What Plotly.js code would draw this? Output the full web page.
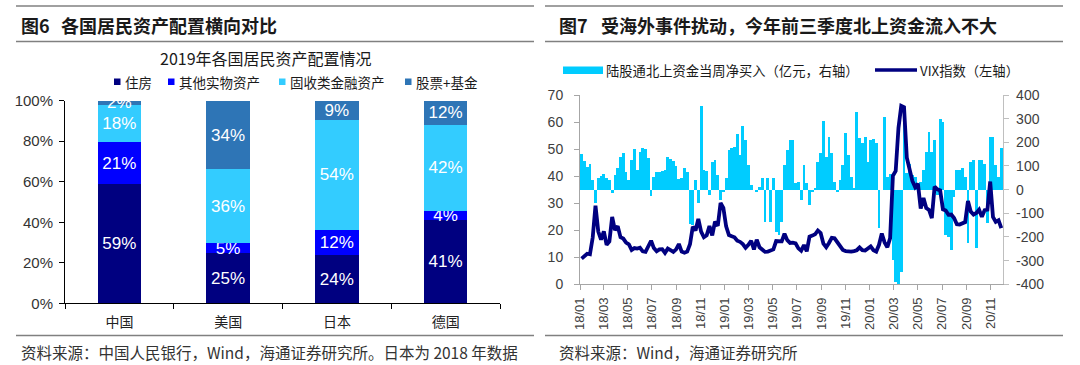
<!DOCTYPE html>
<html><head><meta charset="utf-8">
<script src="https://cdn.plot.ly/plotly-3.0.1.min.js"></script>
<style>html,body{margin:0;padding:0;background:#fff;} #chart{width:1080px;height:365px;}</style>
</head><body><div id="chart"></div>
<script>
// ---------- Left chart data (图6) ----------
const countries = ['中国', '美国', '日本', '德国'];
const seriesNames = ['住房', '其他实物资产', '固收类金融资产', '股票+基金'];
const housing = [58.9, 24.7, 23.9, 41.3];
const otherReal = [20.6, 5.0, 12.4, 4.4];
const fixedIncome = [18.4, 36.4, 54.3, 42.3];
const equityFund = [2.1, 33.9, 9.4, 12.0];
const pctTicks = [0, 20, 40, 60, 80, 100];

// ---------- Right chart data (图7) ----------
const firstWeek = '2018-01-05';
// 陆股通北上资金当周净买入（亿元）
const flows2018 = [150,120,95,108,40,-58,48,59,65,48, 41,-15,62,90,140,153,76,41,125,170,
  83,160,177,170,135,-25,55,75,73,80, 83,139,130,120,100,45,48,90,75,-145,
  -150,41,-55,355,83,79,-22,118,125,60, -44,-8];
const flows2019 = [48,168,175,182,234,146,270,210,104,20, -1,-8,13,48,-135,50,-135,48,-178,-192,
  -135,104,168,210,210,27,34,-44,104,27, -65,-8,6,118,153,290,139,224,153,34,
  -8,41,104,238,146,55,6,330,220,196, 224,118];
const flows2020 = [210,214,196,-163,0,305,55,65,-297,-390, -400,-350,305,69,110,60,55,30,34,85,
  160,245,160,210,-22,297,287,-190,-198,-255, -30,83,85,90,52,-227,118,125,-248,125,
  125,110,-142,224,224,104,55,175];
// VIX指数
const vix2018 = [9.5,10.2,11.3,11.1,17.3,29.1,19.5,16.5,19.6,14.6, 15.8,24.9,20.0,21.5,17.4,16.9,15.4,14.8,12.7,13.4,
  13.2,13.5,12.2,12.0,13.8,16.1,13.4,12.2,12.9,13.0, 11.6,13.2,12.6,12.0,12.9,14.9,12.1,11.7,12.1,14.8,
  21.3,19.9,24.2,19.5,17.4,18.1,21.5,18.1,23.2,21.6, 30.1,28.3];
const vix2019 = [21.4,18.2,17.8,17.4,16.1,15.7,14.9,13.5,14.6,16.1, 12.9,16.5,13.7,12.8,12.0,12.1,12.7,12.9,16.0,16.0,
  15.9,18.7,16.3,15.3,15.4,15.1,13.3,12.4,14.5,12.2, 17.6,18.0,18.5,19.9,19.0,15.0,13.7,15.3,17.2,17.0,
  15.6,14.3,12.7,12.3,12.1,12.1,12.3,12.6,13.6,12.6, 12.5,13.4];
const vix2020 = [14.0,12.6,12.1,14.6,18.8,15.5,13.7,17.1,40.1,41.9, 57.8,66.0,65.5,46.8,41.7,38.2,35.9,37.2,28.0,31.9,
  28.2,27.5,24.5,36.1,35.1,34.7,27.7,27.3,25.7,25.8, 24.5,22.2,22.1,22.5,23.0,30.8,26.9,25.8,26.4,27.6,
  25.0,27.4,27.6,38.0,24.9,23.1,23.7,20.8];
const vixTicks = [0, 10, 20, 30, 40, 50, 60, 70];
const flowTicks = [-400, -300, -200, -100, 0, 100, 200, 300, 400];

const flows = flows2018.concat(flows2019, flows2020);
const vix = vix2018.concat(vix2019, vix2020);
const weeks = flows.map((_, i) => {
  const d = new Date(firstWeek + 'T00:00:00Z');
  d.setUTCDate(d.getUTCDate() + 7 * i);
  return d.toISOString().slice(0, 10);
});

// ---------- helpers ----------
const W = 1080, H = 365;
const px = x => x / W;
const py = y => 1 - y / H;
const CJK = 'Noto Sans CJK SC, sans-serif';
const NUM = 'Liberation Sans, Arial, sans-serif';

const leftSeries = [housing, otherReal, fixedIncome, equityFund];
const leftColors = ['#000080', '#0000FF', '#33CCFF', '#2E75B6'];

const traces = leftSeries.map((vals, k) => ({
  type: 'bar', x: countries, y: vals, name: seriesNames[k],
  xaxis: 'x', yaxis: 'y', width: 0.4,
  marker: {color: leftColors[k], line: {width: 0}},
  texttemplate: '%{y:.0f}%', textposition: 'inside', insidetextanchor: 'middle',
  textangle: 0, constraintext: 'none',
  textfont: {color: '#FFFFFF', size: 17, family: NUM},
  showlegend: false, hoverinfo: 'skip'
}));

traces.push({
  type: 'bar', x: weeks, y: flows, name: '陆股通北上资金当周净买入（亿元，右轴）',
  xaxis: 'x2', yaxis: 'y2', width: 7 * 864e5,
  marker: {color: '#00CCFF', line: {width: 0}},
  showlegend: false, hoverinfo: 'skip'
});
traces.push({
  type: 'scatter', mode: 'lines', x: weeks, y: vix, name: 'VIX指数（左轴）',
  xaxis: 'x2', yaxis: 'y3',
  line: {color: '#000080', width: 3.8},
  showlegend: false, hoverinfo: 'skip'
});

const ann = [];
const shapes = [];
function text(t, x, y, size, opts = {}) {
  ann.push(Object.assign({
    text: t, x: px(x), y: py(y), xref: 'paper', yref: 'paper',
    xanchor: 'left', yanchor: 'middle', showarrow: false,
    font: {family: CJK, size: size, color: '#1a1a1a'}
  }, opts));
}
function hline(x0, x1, y, color, w) {
  shapes.push({type: 'line', xref: 'paper', yref: 'paper', x0: px(x0), x1: px(x1), y0: py(y), y1: py(y),
    line: {color: color, width: w}});
}
function rect(x0, y0, x1, y1, color) {
  shapes.push({type: 'rect', xref: 'paper', yref: 'paper', x0: px(x0), x1: px(x1), y0: py(y0), y1: py(y1),
    fillcolor: color, line: {width: 0}});
}

// header rules
hline(16, 534, 6, '#808080', 1.5); hline(16, 534, 41.5, '#808080', 1.5);
hline(545, 1063, 6, '#808080', 1.5); hline(545, 1063, 41.5, '#808080', 1.5);
hline(16, 534, 335.5, '#808080', 1.5); hline(545, 1063, 335.5, '#808080', 1.5);

// headers
text('<b>图6</b>', 19, 24.5, 18);
text('<b>各国居民资产配置横向对比</b>', 59, 24.5, 18);
text('<b>图7</b>', 557, 24.5, 18);
text('<b>受海外事件扰动，今年前三季度北上资金流入不大</b>', 599, 24.5, 18);

// left chart title
text('2019年各国居民资产配置情况', 266, 58, 16, {xanchor: 'center'});

// left legend
const legX = [114, 168, 279, 405];
seriesNames.forEach((n, k) => {
  rect(legX[k], 78.5, legX[k] + 6.5, 85, leftColors[k]);
  text(n, legX[k] + 9, 81.5, 13.5);
});

// right legend
rect(563, 66.5, 603, 74, '#00CCFF');
text('陆股通北上资金当周净买入（亿元，右轴）', 604, 70, 13.3);
hline(875, 917, 70, '#000080', 3.5);
text('VIX指数（左轴）', 918, 70, 13.3);

// footers
text('资料来源：中国人民银行，Wind，海通证券研究所。日本为 2018 年数据', 19, 352, 15.5, {font: {family: CJK, size: 15.5, color: '#333'}});
text('资料来源：Wind，海通证券研究所', 557, 352, 15.5, {font: {family: CJK, size: 15.5, color: '#333'}});

const layout = {
  width: W, height: H,
  margin: {l: 0, r: 0, t: 0, b: 0},
  paper_bgcolor: '#FFFFFF', plot_bgcolor: 'rgba(0,0,0,0)',
  barmode: 'stack', showlegend: false,
  xaxis: {
    domain: [px(65), px(500)], anchor: 'y', type: 'category',
    showline: true, linecolor: '#000', linewidth: 1,
    ticks: 'outside', tickson: 'boundaries', ticklen: 5, tickcolor: '#000',
    ticklabelstandoff: 6,
    tickfont: {family: CJK, size: 14, color: '#222'},
    showgrid: false, zeroline: false, fixedrange: true
  },
  yaxis: {
    domain: [py(303.3), py(100.7)], anchor: 'x', range: [0, 100],
    tickvals: pctTicks, ticktext: pctTicks.map(v => v + '%'),
    showline: true, linecolor: '#000', linewidth: 1,
    ticks: 'outside', ticklen: 5, tickcolor: '#000', ticklabelstandoff: 3,
    tickfont: {family: NUM, size: 15, color: '#333'},
    showgrid: false, zeroline: false, fixedrange: true
  },
  xaxis2: {
    domain: [px(580), px(1003.3)], anchor: 'y2', type: 'date',
    range: ['2018-01-01', '2020-12-02'],
    tick0: '2018-01-01', dtick: 'M2', tickformat: '%y/%m', tickangle: -90,
    showline: true, linecolor: '#A6A6A6', linewidth: 1,
    ticks: 'outside', ticklen: 5, tickcolor: '#A6A6A6', ticklabelstandoff: 2,
    tickfont: {family: NUM, size: 13, color: '#404040'},
    showgrid: false, zeroline: false, fixedrange: true
  },
  yaxis2: {
    domain: [py(284.3), py(95)], anchor: 'x2', side: 'right', range: [-400, 400],
    tickvals: flowTicks, ticktext: flowTicks.map(v => String(v)),
    showline: true, linecolor: '#BFBFBF', linewidth: 1,
    ticks: 'outside', ticklen: 5, tickcolor: '#BFBFBF', ticklabelstandoff: 4,
    tickfont: {family: NUM, size: 14, color: '#404040'},
    showgrid: false, zeroline: false, fixedrange: true
  },
  yaxis3: {
    overlaying: 'y2', anchor: 'x2', side: 'left', range: [0, 70],
    tickvals: vixTicks, ticktext: vixTicks.map(v => String(v)),
    showline: true, linecolor: '#A6A6A6', linewidth: 1,
    ticks: 'outside', ticklen: 5, tickcolor: '#A6A6A6', ticklabelstandoff: 8,
    tickfont: {family: NUM, size: 14, color: '#404040'},
    showgrid: false, zeroline: false, fixedrange: true
  },
  annotations: ann, shapes: shapes
};

Plotly.newPlot('chart', traces, layout, {staticPlot: true, displayModeBar: false});
</script></body></html>
